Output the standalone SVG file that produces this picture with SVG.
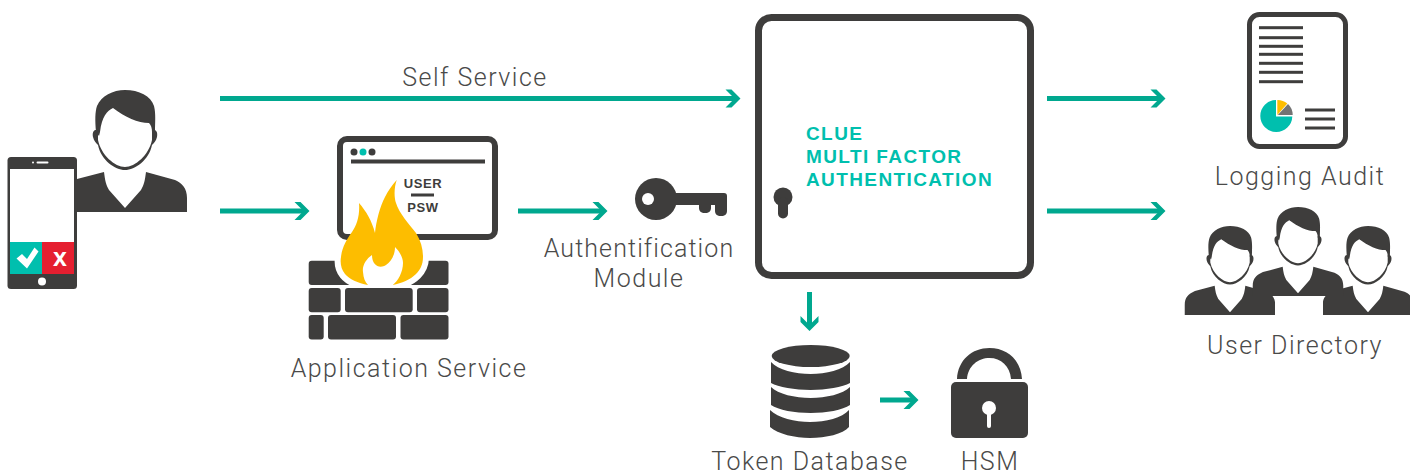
<svg xmlns="http://www.w3.org/2000/svg" xmlns:xlink="http://www.w3.org/1999/xlink" width="1410" height="473" viewBox="0 0 1410 473">
<style>
.d{fill:#3e3d3c}
.w{fill:#fff}
.s{fill:none;stroke:#3e3d3c}
.conn{fill:none;stroke:#00a88f;stroke-width:5;marker-end:url(#arrow)}
.lb{font-family:"Roboto","Liberation Sans",sans-serif;font-weight:300;font-size:25px;letter-spacing:1.5px;fill:#4a4a49;text-anchor:middle}
.ui{font-family:"Liberation Sans",Arial,sans-serif;font-weight:700;font-size:13px;letter-spacing:.6px;fill:#3e3d3c;text-anchor:middle}
.cl{font-family:"Liberation Sans",Arial,sans-serif;font-weight:700;font-size:19px;letter-spacing:1.4px;fill:#00bfae}
</style>
<defs>
<marker id="arrow" markerUnits="userSpaceOnUse" viewBox="-11 -10 17 20" markerWidth="17" markerHeight="20" refX="0" refY="0" orient="auto">
<path d="M5.500 0L-3.500-9H-9.500L-2.500-2V2L-9.500 9H-3.500Z" fill="#00a88f"/>
</marker>
<g id="person">
<path class="d" d="M-48 89L-21 82C-20 90-19 95-16 100L0 118L16 100C19 95 20 90 21 82L50 90C57 93 62 98 62 108V122H-62V108C-62 98-57 93-50 90Z"/>
<path d="M-27 40C-31 39-33 42-32 47C-31 51-29 53-27 55C-24 70-10 80 0 80C10 80 24 70 27 55C29 53 31 51 32 47C33 42 31 39 27 40L27 50C24 65 10 77 0 77C-10 77-24 65-27 50Z" class="d"/>
<path class="d" d="M-29 42C-30 30-30 22-28 16C-24 6-12 0 0 0C14 0 26 6 29 16C31 24 30 32 30 43L27 42C27 38 26 35 24 33C13 33 0 27-12 18C-18 21-23 26-25 42L-26 46Z"/>
</g>
<path id="flame" d="M396.700 180C394 188 394 197 396 203C399 213 409 224 416 233C421 241 423 249 423 257C423 265 420 270 416 274C410 280 402 283 392.700 285C398 281 403 272 403 263C403 257 399 251 395 247C395 255 391 262 386 265C380 269 372 266 372 255C366 259 362 266 363 272C363.500 278 365 282 368 285C358 283 349 279 345 274C341 269 340 263 341 257C342 247 347 239 352 232C357 225 360 215 359 203C366 211 372 221 375 233C376 222 380 206 385 197C388 191 392 185 396.700 180Z"/>
<clipPath id="brickZone"><rect x="300" y="258" width="160" height="29"/></clipPath>
</defs>

<g id="connectors">
<path class="conn" d="M220 98.500H735"/>
<path class="conn" d="M220 211H304"/>
<path class="conn" d="M518 211H602"/>
<path class="conn" d="M1047 98.500H1160"/>
<path class="conn" d="M1047 211H1160"/>
<path class="conn" d="M809.500 292V325.500"/>
<path class="conn" d="M880 400H913"/>
</g>

<g id="user">
<use xlink:href="#person" href="#person" transform="translate(125 90)"/>
</g>

<g id="phone">
<rect class="d" x="7.500" y="157" width="69.500" height="132" rx="3.500"/>
<rect class="w" x="10" y="169" width="64" height="73"/>
<rect x="10" y="242" width="32" height="32" fill="#00bfae"/>
<rect x="42" y="242" width="32" height="32" fill="#e51f30"/>
<rect class="w" x="36.500" y="161.500" width="12" height="2" rx="1"/>
<circle class="w" cx="33" cy="162.500" r="1"/>
<circle class="w" cx="42" cy="281.500" r="4"/>
<path class="w" d="M16.500 258.500L22 254L27 259L34.500 247.500L38.500 251.500L27 268.500Z"/>
<text x="60" y="266" font-family="Liberation Sans, Arial, sans-serif" font-weight="700" font-size="25" fill="#fff" text-anchor="middle">x</text>
</g>

<g id="application-service">
<rect x="340" y="139" width="155" height="98" rx="7" fill="#fff" stroke="#3e3d3c" stroke-width="6"/>
<circle class="d" cx="354" cy="152" r="3.500"/>
<circle cx="363" cy="152" r="3.500" fill="#00bfae"/>
<circle class="d" cx="372" cy="152" r="3.500"/>
<rect class="d" x="351" y="159.500" width="134" height="4"/>
<text class="ui" x="423" y="188">USER</text>
<rect class="d" x="411" y="193.500" width="23" height="3"/>
<text class="ui" x="423" y="212">PSW</text>
<rect class="d" x="308.700" y="260.700" width="139.800" height="24.300" rx="3"/>
<rect class="d" x="308.700" y="288" width="32" height="24.300" rx="3"/>
<rect class="d" x="345" y="288" width="67.700" height="24.300" rx="3"/>
<rect class="d" x="417" y="288" width="31.500" height="24.300" rx="3"/>
<rect class="d" x="308.700" y="315" width="15" height="24.500" rx="3"/>
<rect class="d" x="328" y="315" width="68" height="24.500" rx="3"/>
<rect class="d" x="400.500" y="315" width="48" height="24.500" rx="3"/>
<use xlink:href="#flame" href="#flame" clip-path="url(#brickZone)" fill="#fff" stroke="#fff" stroke-width="12"/>
<path class="w" d="M368 286L362 262L395 245L405 262L392 286Z"/>
<use xlink:href="#flame" href="#flame" fill="#fdbd00"/>
<text class="lb" x="409" y="377">Application Service</text>
</g>

<g id="authentification-module">
<circle class="d" cx="656" cy="199" r="21"/>
<circle class="w" cx="648" cy="199" r="6"/>
<path class="d" d="M670 193H724C726 193 727 194 727 196V211C727 214 725 216 721 216C717 216 715 214 715 211V205H711V208C711 211 709 213 705 213C701 213 699 211 699 208V205H670Z"/>
<text class="lb" x="639" y="256.500" style="letter-spacing:1.1px">Authentification</text>
<text class="lb" x="639" y="286.500">Module</text>
</g>

<g id="clue-mfa">
<rect x="758.500" y="17.500" width="272" height="258" rx="13" fill="#fff" stroke="#3e3d3c" stroke-width="7"/>
<circle class="d" cx="783" cy="197" r="9.500"/>
<rect class="d" x="778" y="197" width="10" height="21.500" rx="5"/>
<text class="cl" x="806" y="140">CLUE</text>
<text class="cl" x="806" y="163">MULTI FACTOR</text>
<text class="cl" x="806" y="186">AUTHENTICATION</text>
</g>

<g id="token-database">
<ellipse class="d" cx="810.700" cy="356" rx="39" ry="11"/>
<path class="d" d="M771 362C778 370 795 374 810.700 374C826 374 843 370 850 362V383C843 387 826 390 810.700 390C795 390 778 387 771 383Z"/>
<path class="d" d="M771 387C778 394 795 398 810.700 398C826 398 843 394 850 387V405C843 410 826 413 810.700 413C795 413 778 410 771 405Z"/>
<path class="d" d="M770 410C778 418 795 422 810 422C826 422 842 418 849 410V427C843 434 826 438 810 438C795 438 778 434 770 427Z"/>
<text class="lb" x="810" y="469.500">Token Database</text>
</g>

<g id="hsm">
<path class="d" d="M957 379C958 360 972 348 989.500 348C1007 348 1021 360 1022 379H1011C1010 366 1001 358 989.500 358C978 358 968 366 967 379Z"/>
<rect class="d" x="951" y="382" width="77" height="56" rx="5"/>
<circle class="w" cx="989" cy="408" r="7"/>
<rect class="w" x="987" y="408" width="4" height="20" rx="2"/>
<text class="lb" x="990" y="469.500">HSM</text>
</g>

<g id="logging-audit">
<rect x="1249.500" y="14.500" width="96" height="132" rx="10" fill="#fff" stroke="#3e3d3c" stroke-width="5"/>
<rect class="d" x="1259" y="26.200" width="44" height="3"/>
<rect class="d" x="1259" y="36.200" width="44" height="3"/>
<rect class="d" x="1259" y="44.800" width="44" height="3"/>
<rect class="d" x="1259" y="52.800" width="44" height="3"/>
<rect class="d" x="1259" y="61.800" width="44" height="3"/>
<rect class="d" x="1259" y="70.800" width="44" height="3"/>
<rect class="d" x="1259" y="80.200" width="44" height="3"/>
<rect class="d" x="1305" y="108.500" width="30" height="3"/>
<rect class="d" x="1305" y="117.500" width="30" height="3"/>
<rect class="d" x="1305" y="126.500" width="30" height="3"/>
<path d="M1276 100A16 16 0 1 0 1292.300 116.500H1276Z" fill="#00bfae"/>
<path d="M1277.300 115V100A15 15 0 0 1 1287.300 103.500Z" fill="#fdbd00"/>
<path d="M1277.800 115L1288 104A15 15 0 0 1 1292.700 115Z" fill="#737373"/>
<text class="lb" x="1300" y="184.500">Logging Audit</text>
</g>

<g id="user-directory">
<use xlink:href="#person" href="#person" transform="translate(1230 226) scale(.73)"/>
<use xlink:href="#person" href="#person" transform="translate(1368 226) scale(.73)"/>
<use xlink:href="#person" href="#person" transform="translate(1298 207) scale(.73)"/>
<rect class="w" x="1275" y="296.500" width="48" height="22"/>
<text class="lb" x="1295" y="353.500">User Directory</text>
</g>

<g id="self-service">
<text class="lb" x="475" y="86">Self Service</text>
</g>
</svg>
